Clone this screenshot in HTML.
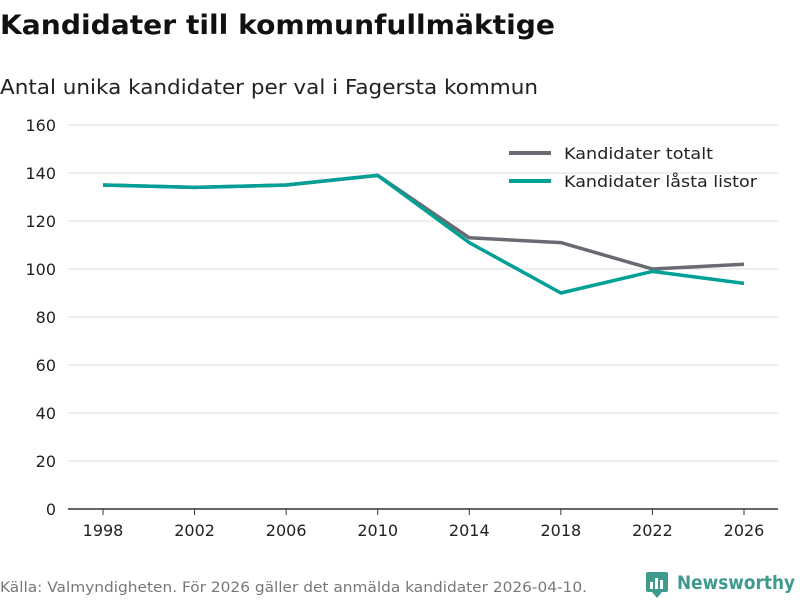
<!DOCTYPE html>
<html><head><meta charset="utf-8"><style>
body{margin:0;background:#fff;}
svg{display:block;font-family:"DejaVu Sans","Liberation Sans",sans-serif;}
</style></head><body>
<svg id="chart" width="800" height="600">
<text x="0" y="34" font-size="27" font-weight="bold" fill="#111" textLength="555" lengthAdjust="spacingAndGlyphs">Kandidater till kommunfullmäktige</text>
<text x="0" y="94" font-size="20" fill="#222" textLength="538" lengthAdjust="spacingAndGlyphs">Antal unika kandidater per val i Fagersta kommun</text>
<g id="grid"></g><g id="series"></g>
<g>
<line x1="509" y1="153" x2="551" y2="153" stroke="#6a6a72" stroke-width="4"/>
<text x="564" y="159" font-size="16" fill="#222" textLength="149" lengthAdjust="spacingAndGlyphs">Kandidater totalt</text>
<line x1="509" y1="181" x2="551" y2="181" stroke="#00a096" stroke-width="4"/>
<text x="564" y="187" font-size="16" fill="#222" textLength="193" lengthAdjust="spacingAndGlyphs">Kandidater låsta listor</text>
</g>
<text x="0" y="592" font-size="14" fill="#777" textLength="587" lengthAdjust="spacingAndGlyphs">Källa: Valmyndigheten. För 2026 gäller det anmälda kandidater 2026-04-10.</text>
<g>
<rect x="646" y="572" width="22" height="20" rx="2" fill="#3f9a8e"/>
<path d="M652 592 L657 598 L662 592Z" fill="#3f9a8e"/>
<rect x="650" y="582" width="3" height="7" fill="#fff"/><rect x="655" y="578" width="3" height="11" fill="#fff"/><rect x="660" y="580" width="3" height="9" fill="#fff"/>
<text x="677" y="589" font-size="19" font-weight="bold" fill="#3f9a8e" textLength="118" lengthAdjust="spacingAndGlyphs">Newsworthy</text>
</g>
</svg>
<script>
const years=[1998,2002,2006,2010,2014,2018,2022,2026];
const totalt=[135,134,135,139,113,111,100,102];
const lasta=[135,134,135,139,111,90,99,94];
const yTicks=[0,20,40,60,80,100,120,140,160];
const NS="http://www.w3.org/2000/svg";
const x=v=>103+(v-1998)*(744-103)/28;
const y=v=>509-v*2.4;
const grid=document.getElementById('grid'),ser=document.getElementById('series');
function mk(tag,attrs,parent){const e=document.createElementNS(NS,tag);for(const k in attrs)e.setAttribute(k,attrs[k]);parent.appendChild(e);return e;}
yTicks.forEach(t=>{
 const l=mk('line',{x1:68,x2:778,y1:y(t),y2:y(t),stroke:t===0?'#333':'#ddd','stroke-width':t===0?1.5:1},grid);
 
 
 const tx=mk('text',{x:56,y:y(t)+6,'text-anchor':'end','font-size':16,fill:'#222'},grid);tx.textContent=t;
 
 
});
years.forEach(yr=>{
 const l=mk('line',{x1:x(yr),x2:x(yr),y1:509,y2:515,stroke:'#333'},grid);
 
 
 const tx=mk('text',{x:x(yr),y:536,'text-anchor':'middle','font-size':16,fill:'#222'},grid);tx.textContent=yr;
 
 
});
function line(vals,color,name){
 const p=mk('polyline',{points:vals.map((v,i)=>x(years[i])+','+y(v)).join(' '),fill:'none',stroke:color,'stroke-width':3.5,'stroke-linejoin':'round'},ser);
 
 
}
line(totalt,'#6a6a72','line-kandidater-totalt');
line(lasta,'#00a096','line-kandidater-lasta-listor');
</script>
</body></html>
